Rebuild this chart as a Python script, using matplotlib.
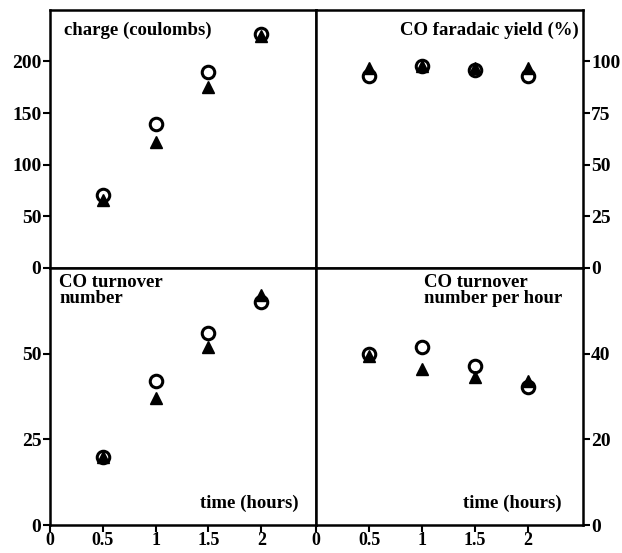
import matplotlib
matplotlib.use("Agg")
import matplotlib.pyplot as plt

plt.rcParams['font.family'] = ['Liberation Serif', 'DejaVu Serif']
plt.rcParams['font.weight'] = 'bold'

# time points (hours)
time = [0.5, 1, 1.5, 2]

# charge (coulombs)
charge_circ = [70, 139, 190, 227]
charge_tri = [66, 122, 175, 225]

# CO faradaic yield (%)
yield_circ = [93, 98, 96, 93]
yield_tri = [97, 98, 97, 97]

# CO turnover number
ton_circ = [20, 42, 56, 65]
ton_tri = [20, 37, 52, 67]

# CO turnover number per hour
tof_circ = [40, 41.6, 37.2, 32.3]
tof_tri = [39.5, 36.5, 34.6, 33.5]

panels = [
    (charge_circ, charge_tri, (0, 250), [0, 50, 100, 150, 200], 'left'),
    (yield_circ, yield_tri, (0, 125), [0, 25, 50, 75, 100], 'right'),
    (ton_circ, ton_tri, (0, 75), [0, 25, 50], 'left'),
    (tof_circ, tof_tri, (0, 60), [0, 20, 40], 'right'),
]

fig = plt.figure(figsize=(6.22, 5.53), dpi=100)
gs = fig.add_gridspec(2, 2, left=0.080, right=0.937, bottom=0.05, top=0.982,
                      wspace=0, hspace=0)

axes = []
for i, (circ, tri, ylim, yticks, side) in enumerate(panels):
    ax = fig.add_subplot(gs[i // 2, i % 2])
    ax.plot(time, circ, 'o', ms=9, mfc='white', mec='black', mew=2.2, zorder=3)
    ax.plot(time, tri, '^', ms=9, color='black', zorder=4)
    ax.set_ylim(*ylim)
    ax.set_xlim(0, 2.52)
    ax.set_yticks(yticks)
    if side == 'right':
        ax.yaxis.tick_right()
    if i >= 2:
        ax.set_xticks([0, 0.5, 1, 1.5, 2])
        ax.set_xticklabels(['0', '0.5', '1', '1.5', '2'])
    else:
        ax.set_xticks([])
    ax.tick_params(direction='out', length=5, width=1.5, labelsize=14, pad=1)
    ax.tick_params(axis='x', labelsize=13, pad=0)
    for sp in ax.spines.values():
        sp.set_linewidth(1.8)
    axes.append(ax)

tkw = dict(fontsize=13.5, fontweight='bold')
axes[0].text(0.055, 0.955, 'charge (coulombs)', transform=axes[0].transAxes,
             ha='left', va='top', **tkw)
axes[1].text(0.985, 0.955, 'CO faradaic yield (%)', transform=axes[1].transAxes,
             ha='right', va='top', **tkw)
axes[2].text(0.035, 0.975, 'CO turnover\nnumber', transform=axes[2].transAxes,
             ha='left', va='top', linespacing=0.95, **tkw)
axes[3].text(0.405, 0.975, 'CO turnover\nnumber per hour', transform=axes[3].transAxes,
             ha='left', va='top', linespacing=0.95, **tkw)
axes[2].text(0.935, 0.05, 'time (hours)', transform=axes[2].transAxes,
             ha='right', va='bottom', **tkw)
axes[3].text(0.92, 0.05, 'time (hours)', transform=axes[3].transAxes,
             ha='right', va='bottom', **tkw)

fig.savefig('out.png', dpi=100)
